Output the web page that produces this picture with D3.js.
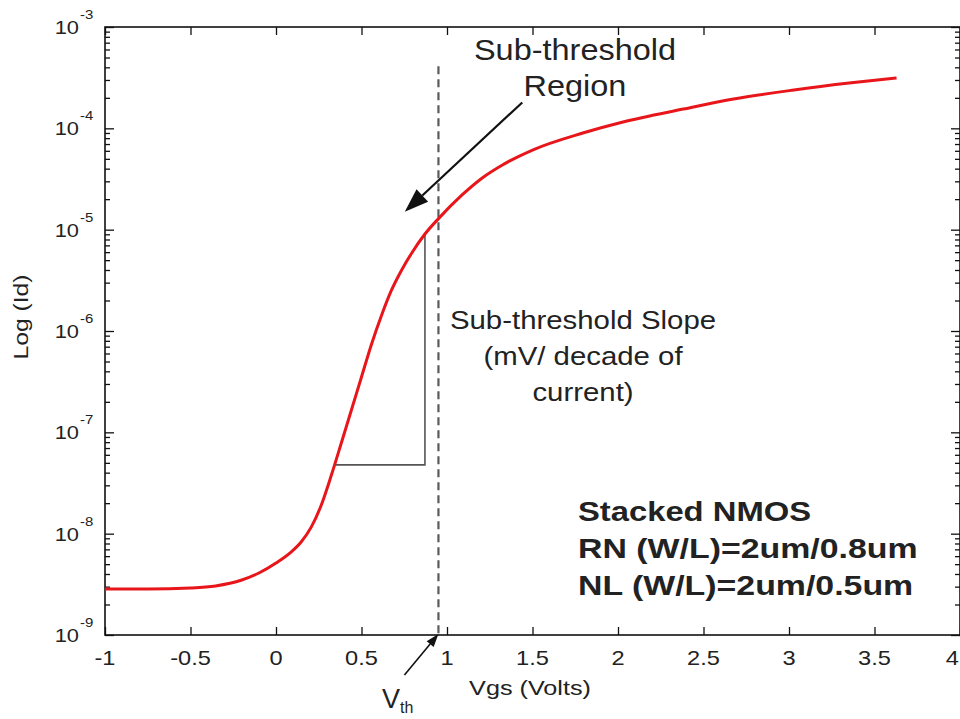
<!DOCTYPE html>
<html>
<head>
<meta charset="utf-8">
<script src="https://cdn.jsdelivr.net/npm/d3@7"></script>
<style>
  body { margin: 0; background: #fff; }
  svg { display: block; }
  text { font-family: "Liberation Sans", Arial, sans-serif; fill: #222; }
</style>
</head>
<body>
<svg id="chart" width="960" height="719"></svg>
<script>
// Gate voltage sweep (V) and drain current (A) of the stacked NMOS pair
const vgs = [-1, -0.747, -0.5, -0.353, -0.2, -0.1, 0, 0.088, 0.147, 0.206, 0.265, 0.324,
  0.382, 0.441, 0.5, 0.559, 0.618, 0.676, 0.735, 0.794, 0.871, 0.953, 1.088, 1.206, 1.324,
  1.5, 1.794, 2.029, 2.382, 2.676, 3.029, 3.365, 3.629];
const idCurrent = [2.84e-9, 2.84e-9, 2.91e-9, 3.05e-9, 3.49e-9, 4.09e-9, 5.14e-9, 6.59e-9,
  8.28e-9, 1.16e-8, 1.92e-8, 3.79e-8, 7.85e-8, 1.66e-7, 3.52e-7, 7.45e-7, 1.44e-6, 2.54e-6,
  4.0e-6, 5.89e-6, 9.06e-6, 1.30e-5, 2.2e-5, 3.24e-5, 4.35e-5, 6.11e-5, 8.99e-5, 1.156e-4,
  1.55e-4, 1.95e-4, 2.39e-4, 2.81e-4, 3.14e-4];

// Axis ticks
const xTicks = [-1, -0.5, 0, 0.5, 1, 1.5, 2, 2.5, 3, 3.5, 4];
const xTickLabels = ["-1", "-0.5", "0", "0.5", "1", "1.5", "2", "2.5", "3", "3.5", "4"];
const yDecades = [-9, -8, -7, -6, -5, -4, -3];
const yDecadeLabels = ["-9", "-8", "-7", "-6", "-5", "-4", "-3"];

// Annotations (data coordinates)
const vth = 0.95;
const vthLineTop = 4.1e-4;
const slopeTriangle = [[0.343, 4.77e-8], [0.871, 4.77e-8], [0.871, 9.06e-6]];
const regionArrow = { from: [1.44, 1.8e-4], to: [0.753, 1.5e-5] };
const regionText = ["Sub-threshold", "Region"];
const slopeText = ["Sub-threshold Slope", "(mV/ decade of", "current)"];
const deviceText = ["Stacked NMOS", "RN (W/L)=2um/0.8um", "NL (W/L)=2um/0.5um"];

const svg = d3.select("#chart");
const W = 960, H = 719;
const m = { left: 105, right: 960, top: 27, bottom: 635 };
const SX = 1.18; // horizontal glyph stretch

const x = d3.scaleLinear().domain([-1, 4]).range([m.left, m.right]);
const y = d3.scaleLog().domain([1e-9, 1e-3]).range([m.bottom, m.top]);

svg.append("rect").attr("width", W).attr("height", H).attr("fill", "#fff");

function label(g, px, py, txt, o = {}) {
  return g.append("text")
    .attr("transform", `translate(${px},${py}) scale(${o.sx ?? SX},1)`)
    .attr("text-anchor", o.anchor || "middle")
    .style("font-size", (o.size || 20) + "px")
    .style("font-weight", o.weight || "normal")
    .text(txt);
}

// ----- axes -----
const majorY = yDecades.map(k => Math.pow(10, k));
const minorY = [];
yDecades.slice(0, -1).forEach(k => { for (let i = 2; i <= 9; i++) minorY.push(i * Math.pow(10, k)); });

function styleAxis(g) {
  g.select(".domain").remove();
  g.selectAll("line").attr("stroke", "#111").attr("stroke-width", 1.3);
  g.selectAll("text").remove();
}

svg.append("g").attr("transform", `translate(0,${m.bottom})`)
  .call(d3.axisBottom(x).tickValues(xTicks).tickSize(-8)).call(styleAxis);
svg.append("g").attr("transform", `translate(0,${m.top})`)
  .call(d3.axisTop(x).tickValues(xTicks).tickSize(-8)).call(styleAxis);
svg.append("g").attr("transform", `translate(${m.left},0)`)
  .call(d3.axisLeft(y).tickValues(majorY).tickSize(-9)).call(styleAxis);
svg.append("g").attr("transform", `translate(${m.left},0)`)
  .call(d3.axisLeft(y).tickValues(minorY).tickSize(-5)).call(styleAxis);
svg.append("g").attr("transform", `translate(${m.right},0)`)
  .call(d3.axisRight(y).tickValues(majorY).tickSize(-9)).call(styleAxis);
svg.append("g").attr("transform", `translate(${m.right},0)`)
  .call(d3.axisRight(y).tickValues(minorY).tickSize(-5)).call(styleAxis);

svg.append("rect")
  .attr("x", m.left).attr("y", m.top)
  .attr("width", m.right - m.left).attr("height", m.bottom - m.top)
  .attr("fill", "none").attr("stroke", "#111").attr("stroke-width", 1.6);

// tick labels (the last one is kept inside the page edge)
const gx = svg.append("g");
xTicks.forEach((t, i) => {
  const last = i === xTicks.length - 1;
  label(gx, last ? x(t) - 1 : x(t), m.bottom + 30, xTickLabels[i],
    { size: 20, anchor: last ? "end" : "middle" });
});

const gy = svg.append("g");
majorY.forEach((v, i) => {
  label(gy, 79, y(v) + 7, "10", { size: 19, anchor: "end", sx: 1.15 });
  label(gy, 80, y(v) - 8, yDecadeLabels[i], { size: 13, anchor: "start", sx: 1.15 });
});

label(svg, 530, 695, "Vgs (Volts)", { size: 21, sx: 1.2 });
svg.append("text")
  .attr("transform", "translate(28,317) rotate(-90) scale(1.3,1.1)")
  .attr("text-anchor", "middle")
  .style("font-size", "19px")
  .text("Log (Id)");

// ----- annotations behind the curve -----
svg.append("line")
  .attr("x1", x(vth)).attr("x2", x(vth))
  .attr("y1", y(vthLineTop)).attr("y2", m.bottom)
  .attr("stroke", "#5a5a5a").attr("stroke-width", 2.2)
  .attr("stroke-dasharray", "8,5");

svg.append("path")
  .attr("d", d3.line().x(d => x(d[0])).y(d => y(d[1]))(slopeTriangle))
  .attr("fill", "none").attr("stroke", "#555").attr("stroke-width", 1.6);

// ----- I-V curve -----
const pts = vgs.map((v, i) => [v, idCurrent[i]]);
svg.append("path")
  .attr("d", d3.line().x(d => x(d[0])).y(d => y(d[1])).curve(d3.curveMonotoneX)(pts))
  .attr("fill", "none").attr("stroke", "#e8161b").attr("stroke-width", 3)
  .attr("stroke-linejoin", "round");

// ----- arrows -----
function arrow(x1, y1, x2, y2, headLen, headW, width) {
  const a = Math.atan2(y2 - y1, x2 - x1);
  const bx = x2 - headLen * Math.cos(a), by = y2 - headLen * Math.sin(a);
  svg.append("line").attr("x1", x1).attr("y1", y1).attr("x2", bx).attr("y2", by)
    .attr("stroke", "#111").attr("stroke-width", width);
  const nx = -Math.sin(a) * headW / 2, ny = Math.cos(a) * headW / 2;
  svg.append("path")
    .attr("d", `M${x2},${y2}L${bx + nx},${by + ny}L${bx - nx},${by - ny}Z`)
    .attr("fill", "#111");
}
arrow(x(regionArrow.from[0]), y(regionArrow.from[1]),
      x(regionArrow.to[0]), y(regionArrow.to[1]), 24, 17, 2.2);
arrow(x(vth) - 34, m.bottom + 40, x(vth), m.bottom - 1, 13, 9, 1.6);

// ----- text annotations -----
label(svg, 575, 60, regionText[0], { size: 29, sx: 1.12 });
label(svg, 575, 96, regionText[1], { size: 29, sx: 1.12 });

slopeText.forEach((t, i) => label(svg, 583, 329 + i * 36, t, { size: 26, sx: 1.13 }));

deviceText.forEach((t, i) => label(svg, 578, 521 + i * 37, t,
  { size: 28, weight: "bold", anchor: "start", sx: i === 0 ? 1.17 : 1.21 }));

const vt = svg.append("text")
  .attr("transform", `translate(382,708) scale(1.0,1)`)
  .style("font-size", "27px");
vt.append("tspan").text("V");
vt.append("tspan").attr("dy", 5).style("font-size", "16px").text("th");
</script>
</body>
</html>
